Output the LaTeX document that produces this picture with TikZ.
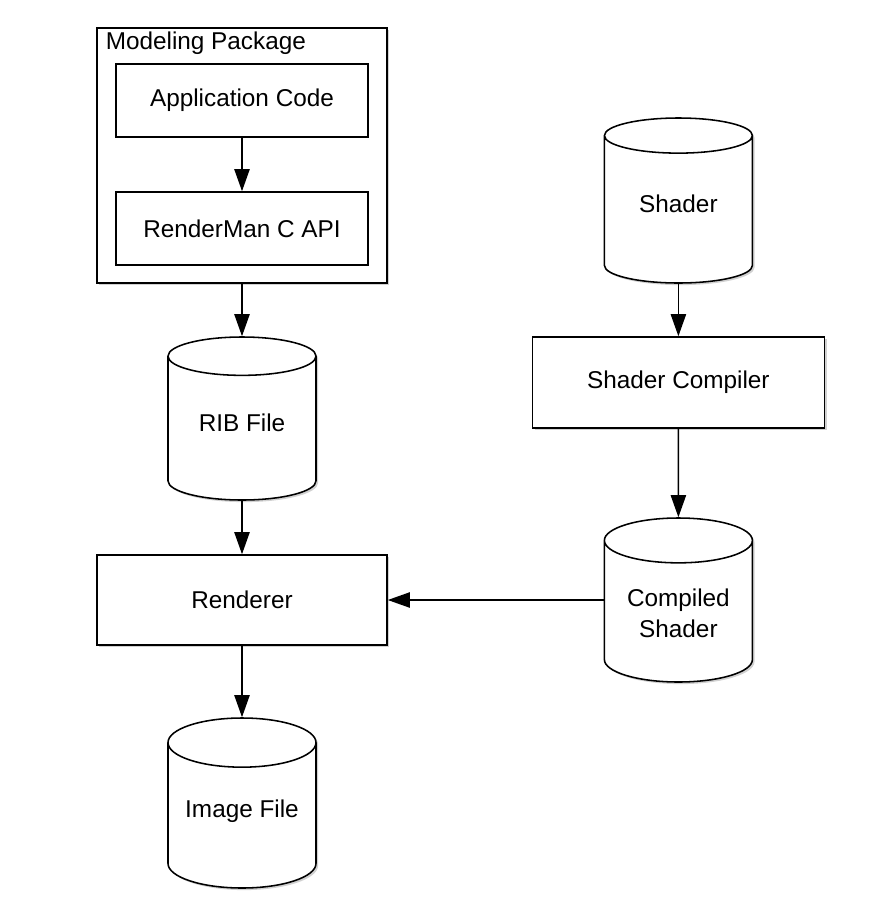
\documentclass[tikz,border=0pt]{standalone}
\usepackage{fontspec}
\setmainfont{Liberation Sans}
\usepackage{tikz}
\usetikzlibrary{shapes.geometric}
\usetikzlibrary{shadows}
\usetikzlibrary{arrows.meta}
\tikzset{>={Triangle[length=0.55cm,width=0.38cm]}}
\tikzset{softshadow/.style = {drop shadow={shadow xshift=1.5pt,shadow yshift=-1.5pt,opacity=0.3,fill=black!60}}}
\tikzset{block/.style = {shape=rectangle,draw,fill=white,line width=1.1pt,softshadow,minimum width=7.25cm,minimum height=2.25cm}}
\tikzset{inner/.style = {shape=rectangle,draw,fill=white,line width=1.1pt,minimum width=6.3cm,minimum height=1.825cm}}
\tikzset{store/.style = {shape=cylinder,shape border rotate=90,aspect=0.4,draw,fill=white,line width=1.1pt,softshadow,minimum width=3.7cm,minimum height=4.1cm,align=center,anchor=shape center}}
\newcommand{\lift}[1]{\raisebox{0.22cm}[\height][\depth]{#1}}

\begin{document}
\begin{tikzpicture}[font=\fontsize{17.3}{22}\selectfont,line width=1.1pt]
                \useasboundingbox (0,0) rectangle (22.4,-22.65);
                \node[block,minimum height=6.375cm] (Pkg) at (6.05,-3.8875) {};
                \node[anchor=north west,inner sep=0.1cm,xshift=0.12cm] (PkgLabel) at (Pkg.north west) {Modeling Package};
                \node[inner] (App) at (6.05,-2.5125) {Application Code};
                \node[inner] (Api) at (6.05,-5.7125) {RenderMan C API};
                \node[store,minimum height=4.075cm] (Rib) at (6.05,-10.4625) {\lift{RIB File}};
                \node[block] (Renderer) at (6.05,-15) {Renderer};
                \node[store,minimum height=4.25cm] (Image) at (6.05,-20.075) {\lift{Image File}};
                \node[store,minimum height=4.125cm] (Shader) at (16.96,-5.0125) {\lift{Shader}};
                \node[block,minimum width=7.3cm,minimum height=2.275cm] (Compiler) at (16.96,-9.5625) {Shader Compiler};
                \node[store] (Compiled) at (16.96,-15) {\raisebox{0.1cm}{Compiled}\\\raisebox{0.1cm}{Shader}};

                \draw[->] (App) -- (Api);
                \draw[->] (Pkg) -- (Rib);
                \draw[->] (Rib) -- (Renderer);
                \draw[->] (Renderer) -- (Image);
                \draw[->] (Shader) -- (Compiler);
                \draw[->] (Compiler) -- (Compiled);
                \draw[->] (Compiled.west |- Renderer) -- (Renderer);
            \end{tikzpicture}
\end{document}
